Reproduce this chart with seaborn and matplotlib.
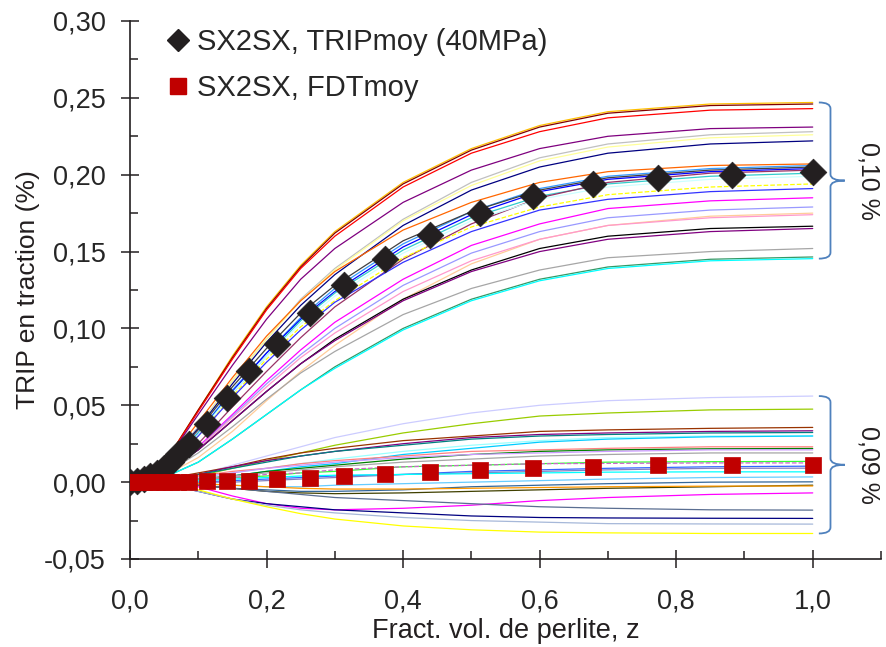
import numpy as np
import pandas as pd
import matplotlib
matplotlib.use('Agg')
import matplotlib.pyplot as plt
from matplotlib.path import Path
from matplotlib.patches import PathPatch
from matplotlib.lines import Line2D
from matplotlib.ticker import MultipleLocator, FuncFormatter
import seaborn as sns

# abscisse commune des courbes fines (fraction volumique de perlite)
X_GRID = [0, 0.05, 0.1, 0.15, 0.2, 0.25, 0.3, 0.4, 0.5, 0.6, 0.7, 0.85, 1.0]

# courbes TRIP individuelles (groupe haut)
UPPER_CURVES = [
    [0, 0.012, 0.047, 0.082, 0.114, 0.141, 0.163, 0.195, 0.217, 0.232, 0.241, 0.246, 0.247],
    [0, 0.012, 0.047, 0.081, 0.113, 0.140, 0.162, 0.194, 0.216, 0.231, 0.240, 0.245, 0.246],
    [0, 0.012, 0.046, 0.080, 0.112, 0.139, 0.160, 0.192, 0.214, 0.228, 0.237, 0.242, 0.243],
    [0, 0.012, 0.044, 0.076, 0.106, 0.132, 0.152, 0.182, 0.203, 0.217, 0.225, 0.230, 0.231],
    [0, 0.010, 0.036, 0.066, 0.093, 0.119, 0.139, 0.171, 0.195, 0.211, 0.220, 0.226, 0.228],
    [0, 0.010, 0.035, 0.066, 0.093, 0.118, 0.138, 0.170, 0.193, 0.209, 0.218, 0.224, 0.226],
    [0, 0.010, 0.035, 0.064, 0.091, 0.115, 0.135, 0.167, 0.190, 0.205, 0.214, 0.220, 0.222],
    [0, 0.010, 0.039, 0.068, 0.095, 0.118, 0.137, 0.164, 0.182, 0.195, 0.202, 0.206, 0.207],
    [0, 0.009, 0.032, 0.060, 0.084, 0.107, 0.126, 0.155, 0.176, 0.191, 0.199, 0.204, 0.206],
    [0, 0.010, 0.034, 0.062, 0.087, 0.110, 0.128, 0.157, 0.176, 0.190, 0.198, 0.203, 0.205],
    [0, 0.009, 0.032, 0.059, 0.084, 0.106, 0.124, 0.153, 0.174, 0.189, 0.197, 0.202, 0.204],
    [0, 0.009, 0.032, 0.058, 0.082, 0.105, 0.123, 0.151, 0.172, 0.186, 0.194, 0.199, 0.201],
    [0, 0.007, 0.025, 0.049, 0.072, 0.094, 0.114, 0.145, 0.168, 0.185, 0.195, 0.201, 0.203],
    [0, 0.009, 0.031, 0.058, 0.082, 0.103, 0.121, 0.149, 0.170, 0.184, 0.192, 0.197, 0.199],
    [0, 0.009, 0.030, 0.056, 0.080, 0.101, 0.118, 0.146, 0.166, 0.179, 0.187, 0.192, 0.194],
    [0, 0.009, 0.030, 0.055, 0.078, 0.099, 0.117, 0.143, 0.163, 0.177, 0.184, 0.189, 0.191],
    [0, 0.006, 0.023, 0.044, 0.066, 0.086, 0.104, 0.132, 0.154, 0.168, 0.178, 0.183, 0.185],
    [0, 0.006, 0.022, 0.043, 0.064, 0.083, 0.100, 0.128, 0.149, 0.163, 0.172, 0.177, 0.179],
    [0, 0.004, 0.016, 0.033, 0.053, 0.072, 0.089, 0.119, 0.142, 0.158, 0.167, 0.173, 0.175],
    [0, 0.006, 0.022, 0.042, 0.062, 0.081, 0.097, 0.124, 0.144, 0.158, 0.167, 0.172, 0.174],
    [0, 0.006, 0.021, 0.040, 0.059, 0.077, 0.093, 0.119, 0.138, 0.152, 0.160, 0.165, 0.1665],
    [0, 0.006, 0.021, 0.040, 0.059, 0.077, 0.092, 0.118, 0.137, 0.150, 0.158, 0.163, 0.165],
    [0, 0.005, 0.019, 0.036, 0.054, 0.071, 0.085, 0.109, 0.126, 0.138, 0.146, 0.150, 0.152],
    [0, 0.003, 0.013, 0.028, 0.044, 0.060, 0.075, 0.100, 0.119, 0.132, 0.140, 0.145, 0.1465],
    [0, 0.003, 0.013, 0.028, 0.044, 0.060, 0.074, 0.099, 0.118, 0.131, 0.139, 0.144, 0.1454],
]
UPPER_COLORS = ['#FFC000', '#800000', '#FF0000', '#7F007F', '#C0C0C0', '#FFFF99', '#000080',
                '#FF6600', '#3399FF', '#404040', '#0000FF', '#33CCCC', '#993366', '#CCFFFF',
                '#FFFF00', '#3333FF', '#FF00FF', '#9999FF', '#FFCC99', '#FF99CC', '#000000',
                '#800080', '#A6A6A6', '#339966', '#00FFFF']
UPPER_DASHED = [14]

# courbes FDT individuelles (groupe bas)
LOWER_CURVES = [
    [0, 0.001, 0.005, 0.011, 0.017, 0.023, 0.029, 0.038, 0.045, 0.050, 0.053, 0.055, 0.056],
    [0, 0.001, 0.004, 0.009, 0.014, 0.019, 0.024, 0.032, 0.038, 0.043, 0.045, 0.047, 0.0475],
    [0, 0.002, 0.006, 0.010, 0.015, 0.019, 0.022, 0.027, 0.030, 0.033, 0.034, 0.035, 0.0356],
    [0, 0.002, 0.005, 0.010, 0.014, 0.017, 0.020, 0.025, 0.029, 0.031, 0.032, 0.033, 0.0334],
    [0, 0.001, 0.005, 0.009, 0.013, 0.017, 0.020, 0.024, 0.028, 0.030, 0.031, 0.032, 0.0323],
    [0, 0.001, 0.003, 0.006, 0.009, 0.012, 0.015, 0.020, 0.024, 0.027, 0.029, 0.030, 0.0301],
    [0, 0.001, 0.002, 0.004, 0.007, 0.010, 0.012, 0.018, 0.022, 0.026, 0.028, 0.0295, 0.030],
    [0, 0.001, 0.004, 0.007, 0.009, 0.012, 0.014, 0.017, 0.020, 0.021, 0.022, 0.023, 0.023],
    [0, 0.000, 0.002, 0.004, 0.007, 0.009, 0.011, 0.015, 0.018, 0.020, 0.021, 0.0217, 0.0219],
    [0, 0.001, 0.003, 0.006, 0.009, 0.011, 0.013, 0.016, 0.018, 0.019, 0.020, 0.021, 0.021],
    [0, 0.000, 0.002, 0.004, 0.006, 0.008, 0.010, 0.013, 0.015, 0.017, 0.018, 0.019, 0.019],
    [0, 0.000, 0.001, 0.003, 0.004, 0.006, 0.007, 0.010, 0.011, 0.012, 0.013, 0.0133, 0.0135],
    [0, 0.000, 0.001, 0.003, 0.005, 0.006, 0.008, 0.010, 0.011, 0.012, 0.0122, 0.0125, 0.0125],
    [0, 0.000, 0.000, 0.001, 0.002, 0.003, 0.004, 0.005, 0.007, 0.008, 0.009, 0.010, 0.0104],
    [0, 0.000, 0.000, 0.000, 0.001, 0.002, 0.003, 0.005, 0.006, 0.007, 0.008, 0.009, 0.0091],
    [0, 0.000, 0.001, 0.002, 0.003, 0.004, 0.0045, 0.005, 0.0055, 0.006, 0.0065, 0.0067, 0.0067],
    [0, 0.000, -0.001, -0.002, -0.003, -0.003, -0.002, -0.001, 0.000, 0.001, 0.002, 0.003, 0.0034],
    [0, 0.000, -0.002, -0.004, -0.005, -0.006, -0.006, -0.005, -0.003, -0.002, -0.001, 0.000, 0.0002],
    [0, 0.000, -0.002, -0.004, -0.006, -0.007, -0.0075, -0.007, -0.006, -0.005, -0.004, -0.003, -0.002],
    [0, 0.000, -0.001, -0.002, -0.003, -0.004, -0.0045, -0.0045, -0.0040, -0.0035, -0.003, -0.0026, -0.0025],
    [0, 0.000, -0.003, -0.009, -0.014, -0.017, -0.018, -0.017, -0.015, -0.012, -0.010, -0.008, -0.007],
    [0, 0.000, -0.002, -0.004, -0.006, -0.008, -0.010, -0.012, -0.014, -0.016, -0.017, -0.018, -0.0182],
    [0, -0.001, -0.006, -0.011, -0.014, -0.016, -0.018, -0.020, -0.022, -0.023, -0.0233, -0.0235, -0.0236],
    [0, -0.001, -0.006, -0.011, -0.015, -0.018, -0.020, -0.023, -0.025, -0.026, -0.027, -0.0272, -0.0273],
    [0, -0.001, -0.005, -0.011, -0.016, -0.0205, -0.024, -0.0285, -0.031, -0.0325, -0.033, -0.0334, -0.0334],
]
LOWER_COLORS = ['#CCCCFF', '#99CC00', '#993300', '#800080', '#008080', '#99FFFF', '#00CCFF',
                '#FF8080', '#008000', '#CC99FF', '#A6A6A6', '#33FF33', '#CC66CC', '#3366FF',
                '#8080C0', '#00FFFF', '#66CCFF', '#336699', '#404000', '#FF9900', '#FF00FF',
                '#5A6E91', '#000080', '#A6B8D9', '#FFFF00']
LOWER_DASHED = [12]

# moyennes
Z_MEAN = [0, 0.01, 0.02, 0.03, 0.04, 0.05, 0.06, 0.07, 0.086, 0.113, 0.142, 0.175, 0.216,
          0.263, 0.314, 0.374, 0.439, 0.512, 0.591, 0.678, 0.773, 0.882, 1.0]
TRIP_MOY = [0, 0.001, 0.002, 0.004, 0.006, 0.009, 0.013, 0.018, 0.025, 0.038, 0.055, 0.072, 0.090,
            0.110, 0.128, 0.145, 0.161, 0.175, 0.186, 0.194, 0.198, 0.200, 0.202]
FDT_MOY = [0, 0, 0, 0, 0, 0, 0, 0, 0.0003, 0.0005, 0.0008, 0.001, 0.002,
           0.003, 0.004, 0.005, 0.0065, 0.008, 0.009, 0.0097, 0.011, 0.011, 0.011]

LABEL_TRIP = 'SX2SX, TRIPmoy (40MPa)'
LABEL_FDT = 'SX2SX, FDTmoy'

sns.set_style('ticks')
plt.rcParams['font.family'] = ['Liberation Sans', 'DejaVu Sans']
NARROW = ['Liberation Sans Narrow', 'Liberation Sans', 'DejaVu Sans']

fig = plt.figure(figsize=(8.86, 6.47), dpi=100)
ax = fig.add_axes([130 / 886, 88 / 647, 751 / 886, 538 / 647])

for i, (vals, col) in enumerate(zip(UPPER_CURVES, UPPER_COLORS)):
    sns.lineplot(x=X_GRID, y=vals, color=col, lw=0.9, ax=ax,
                 linestyle='--' if i in UPPER_DASHED else '-')
for i, (vals, col) in enumerate(zip(LOWER_CURVES, LOWER_COLORS)):
    sns.lineplot(x=X_GRID, y=vals, color=col, lw=0.9, ax=ax,
                 linestyle='--' if i in LOWER_DASHED else '-')

sns.scatterplot(x=Z_MEAN, y=TRIP_MOY, marker='D', s=185, color='#231F20',
                edgecolor='#231F20', linewidth=0.5, ax=ax, zorder=5)
sns.scatterplot(x=Z_MEAN, y=FDT_MOY, marker='s', s=145, color='#C00000',
                edgecolor='#C00000', linewidth=0.5, ax=ax, zorder=6)


def brace(ax, top, bot, x0=1.009, x1=1.026, x2=1.047, d=0.004):
    mid = (top + bot) / 2
    verts = [(x0, top), (x1, top), (x1, top - d),
             (x1, mid + d), (x1, mid), (x2, mid),
             (x1, mid), (x1, mid - d),
             (x1, bot + d), (x1, bot), (x0, bot)]
    codes = [Path.MOVETO, Path.CURVE3, Path.CURVE3,
             Path.LINETO, Path.CURVE3, Path.CURVE3,
             Path.CURVE3, Path.CURVE3,
             Path.LINETO, Path.CURVE3, Path.CURVE3]
    ax.add_patch(PathPatch(Path(verts, codes), fc='none', ec='#4F81BD', lw=1.3, clip_on=False))
    return mid


up_final = [c[-1] for c in UPPER_CURVES]
lo_final = [c[-1] for c in LOWER_CURVES]
m1 = brace(ax, max(up_final), min(up_final))
m2 = brace(ax, max(lo_final), min(lo_final))
ax.text(1.082, m1, '0,10 %', rotation=270, ha='center', va='center', fontsize=18, color='#231F20')
ax.text(1.082, m2, '0,09 %', rotation=270, ha='center', va='center', fontsize=18, color='#231F20')

ax.set_xlim(0, 1.1)
ax.set_ylim(-0.05, 0.30)
ax.xaxis.set_major_locator(MultipleLocator(0.2))
ax.xaxis.set_minor_locator(MultipleLocator(0.1))
ax.yaxis.set_major_locator(MultipleLocator(0.05))
ax.yaxis.set_minor_locator(MultipleLocator(0.025))
ax.xaxis.set_major_formatter(FuncFormatter(lambda v, p: f'{v:.1f}'.replace('.', ',') if v <= 1.01 else ''))
ax.yaxis.set_major_formatter(FuncFormatter(lambda v, p: f'{v:.2f}'.replace('.', ',')))
ax.tick_params(axis='both', which='major', direction='inout', length=13, width=1.1, color='#231F20')
ax.tick_params(axis='both', which='minor', direction='in', length=6, width=1.1, color='#231F20')
ax.tick_params(axis='y', which='major', labelsize=19.5, pad=11)
ax.tick_params(axis='x', which='major', labelsize=19.5, pad=15)
for lab in ax.get_xticklabels():
    lab.set_family(NARROW)
sns.despine(ax=ax)
for s in ('left', 'bottom'):
    ax.spines[s].set_linewidth(1.2)
    ax.spines[s].set_color('#231F20')

ax.set_xlabel('Fract. vol. de perlite, z', fontsize=19.5, family=NARROW, labelpad=2, color='#231F20')
ax.set_ylabel('TRIP en traction (%)', fontsize=19, labelpad=3, color='#231F20')

handles = [Line2D([], [], marker='D', ls='', color='#231F20', ms=11),
           Line2D([], [], marker='s', ls='', color='#C00000', ms=12)]
ax.legend(handles, [LABEL_TRIP, LABEL_FDT], loc='upper left', bbox_to_anchor=(0.035, 1.008),
          frameon=False, fontsize=21, handlelength=0.7, handletextpad=0.3, labelspacing=0.62,
          borderaxespad=0)

fig.savefig('out.png', dpi=100)
